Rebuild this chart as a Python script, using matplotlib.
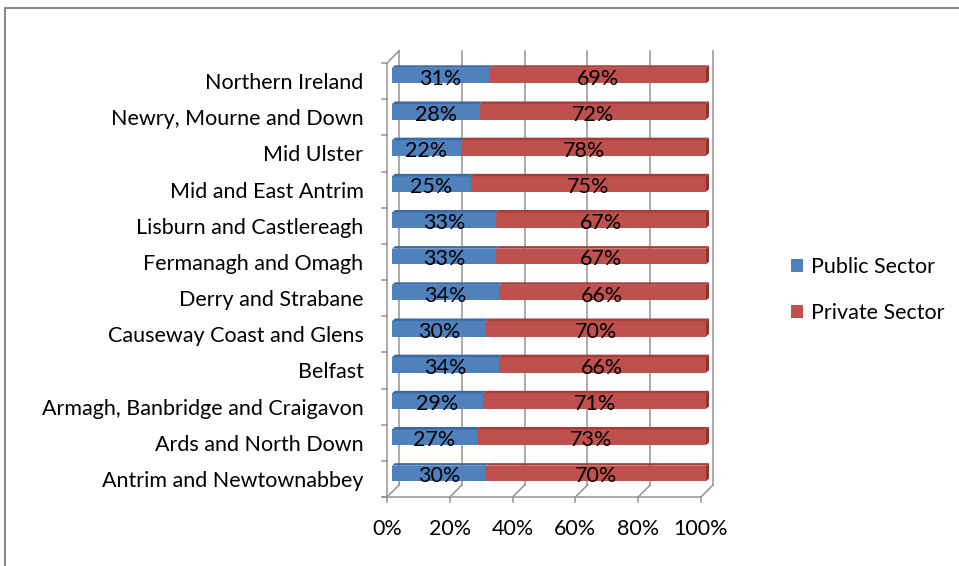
import matplotlib
matplotlib.use("Agg")
import matplotlib.pyplot as plt
import numpy as np
from matplotlib.patches import Polygon, Patch
from matplotlib.lines import Line2D
from matplotlib.transforms import Affine2D, IdentityTransform

plt.rcParams["font.family"] = ["Lato", "DejaVu Sans"]

# ---- data (bottom row first) ----
regions = [
    "Antrim and Newtownabbey",
    "Ards and North Down",
    "Armagh, Banbridge and Craigavon",
    "Belfast",
    "Causeway Coast and Glens",
    "Derry and Strabane",
    "Fermanagh and Omagh",
    "Lisburn and Castlereagh",
    "Mid and East Antrim",
    "Mid Ulster",
    "Newry, Mourne and Down",
    "Northern Ireland",
]
public_sector = [30, 27, 29, 34, 30, 34, 33, 33, 25, 22, 28, 31]
private_sector = [70, 73, 71, 66, 70, 66, 67, 67, 75, 78, 72, 69]
series_names = ["Public Sector", "Private Sector"]
x_ticks = [0, 20, 40, 60, 80, 100]
x_tick_labels = ["0%", "20%", "40%", "60%", "80%", "100%"]

# ---- styling ----
W, H, DPI = 959, 566, 100
FACE = ["#4F81BD", "#C0504D"]
TOP = ["#3A6AA3", "#A43E3B"]
SIDE = "#8E3431"
GRID = "#939393"
FONT = 15.5

WALL = np.array([12.0, 12.0])      # depth of the floor / back wall (px)
BAR_FRONT = np.array([5.0, 5.5])   # bar front face offset from the front plane
BAR_DEPTH = np.array([3.0, 2.5])   # bar thickness in depth
BAR_H = 0.43

fig = plt.figure(figsize=(W / DPI, H / DPI), dpi=DPI)
left_px, right_px, top_px, bot_px = 387, 701, 63, 497
ax = fig.add_axes([left_px / W, (H - bot_px) / H,
                   (right_px - left_px) / W, (bot_px - top_px) / H])
for s in ax.spines.values():
    s.set_visible(False)
ax.patch.set_visible(False)

n = len(regions)
ypos = np.arange(n)
ax.set_xlim(0, 100)
ax.set_ylim(-0.5, n - 0.5)

ident = IdentityTransform()


def px(x, y, off=(0.0, 0.0)):
    return ax.transData.transform((x, y)) + np.asarray(off)


def seg(p, q, color=GRID, lw=1.1):
    ax.add_line(Line2D([p[0], q[0]], [p[1], q[1]], color=color, lw=lw,
                       transform=ident, clip_on=False, zorder=1))


# ---- walls, floor and gridlines ----
y0, y1 = -0.5, n - 0.5
for t in x_ticks:
    seg(px(t, y0, WALL), px(t, y1, WALL))          # back wall gridline
    seg(px(t, y0), px(t, y0, WALL))                 # floor diagonal
    seg(px(t, y0), px(t, y0, (0, -5)))              # tick mark
seg(px(0, y0, (-5, 0)), px(100, y0))                # front floor edge
seg(px(0, y0), px(0, y1))                           # side wall front edge
seg(px(0, y1), px(0, y1, WALL))                     # side wall top edge
for k in range(n + 1):
    seg(px(0, k - 0.5), px(0, k - 0.5, (-5, 0)))

# ---- bars ----
bar_tr = ax.transData + Affine2D().translate(*BAR_FRONT)
lefts = [np.zeros(n), np.array(public_sector, float)]
widths = [np.array(public_sector, float), np.array(private_sector, float)]
for j in range(2):
    ax.barh(ypos, widths[j], left=lefts[j], height=BAR_H, color=FACE[j],
            transform=bar_tr, clip_on=False, zorder=3, linewidth=0)
    for i in range(n):
        l, w = lefts[j][i], widths[j][i]
        a = px(l, i + BAR_H / 2, BAR_FRONT)
        b = px(l + w, i + BAR_H / 2, BAR_FRONT)
        ax.add_patch(Polygon([a, b, b + BAR_DEPTH, a + BAR_DEPTH], closed=True,
                             facecolor=TOP[j], edgecolor="none",
                             transform=ident, clip_on=False, zorder=3))
        if j == 1:
            c = px(l + w, i - BAR_H / 2, BAR_FRONT)
            ax.add_patch(Polygon([b, c, c + BAR_DEPTH, b + BAR_DEPTH],
                                 closed=True, facecolor=SIDE, edgecolor="none",
                                 transform=ident, clip_on=False, zorder=3))

# ---- data labels ----
lab_tr = ax.transData + Affine2D().translate(BAR_FRONT[0], BAR_FRONT[1] - 3)
for j in range(2):
    for i in range(n):
        ax.text(lefts[j][i] + widths[j][i] / 2, i, f"{widths[j][i]:.0f}%",
                ha="center", va="center", fontsize=FONT, color="black",
                transform=lab_tr, zorder=5)

# ---- axes labels ----
ax.set_yticks(ypos, regions)
ax.set_xticks(x_ticks, x_tick_labels)
ax.tick_params(axis="y", length=0, pad=17, labelsize=FONT)
ax.tick_params(axis="x", length=0, pad=15.5, labelsize=FONT)

# ---- legend ----
handles = [Patch(facecolor=FACE[0]), Patch(facecolor=FACE[1])]
fig.legend(handles, series_names, loc="center left",
           bbox_to_anchor=(772 / W, 1 - 290 / H), frameon=False,
           fontsize=FONT, handlelength=0.55, handleheight=0.55,
           handletextpad=0.35, labelspacing=1.2)

# ---- chart area border ----
fig.add_artist(Line2D([4.5, 4.5, W], [0, H - 8, H - 8], color="#888888",
                      lw=1.5, transform=ident))

fig.savefig("out.png", dpi=DPI)
